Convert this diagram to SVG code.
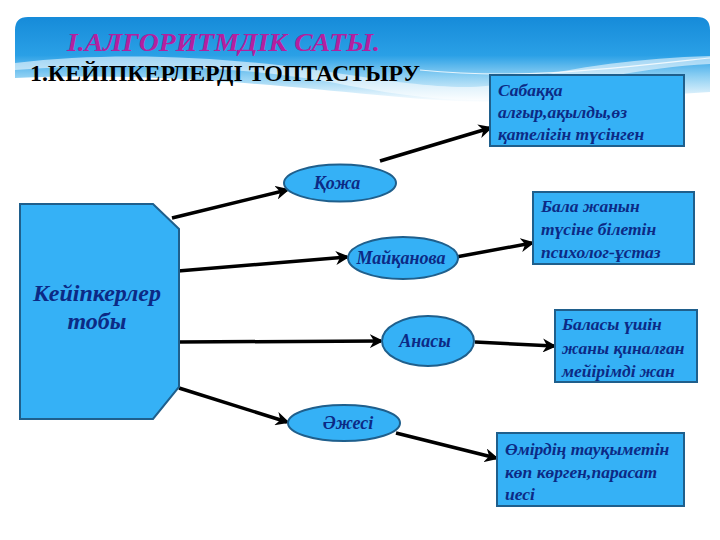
<svg xmlns="http://www.w3.org/2000/svg" width="720" height="540" viewBox="0 0 720 540">
<defs>
<linearGradient id="hdr" x1="0" y1="0" x2="0" y2="1">
<stop offset="0" stop-color="#168bd9"/>
<stop offset="0.45" stop-color="#2aa0e6"/>
<stop offset="0.7" stop-color="#8fd0f3"/>
<stop offset="1" stop-color="#ffffff"/>
</linearGradient>
<marker id="arr" viewBox="0 0 10 10" refX="8" refY="5" markerWidth="4" markerHeight="4" orient="auto" markerUnits="strokeWidth">
<path d="M0,0 L10,5 L0,10 L3,5 z" fill="#000"/>
</marker>
<style>
.node{fill:#35b1f6;stroke:#1f5f8c;stroke-width:2}
.lbl{font-family:"Liberation Serif","DejaVu Serif",serif;font-style:italic;font-weight:bold;fill:#0c2a85}
.bt{font-size:17.5px}
.el{font-size:18px;text-anchor:middle}
.con{stroke:#000;stroke-width:3.5;fill:none;marker-end:url(#arr)}
</style>
</defs>
<rect width="720" height="540" fill="#ffffff"/>
<g id="header">
<path d="M15,30 Q15,17 28,17 H697 Q710,17 710,30 V92 C640,96 560,104 480,102 C360,99 220,70 15,78 Z" fill="url(#hdr)"/>
<path d="M15,63 C120,50 240,58 330,72 C420,86 470,92 510,82 C580,66 640,58 710,56 V64 C640,68 590,80 520,96 C470,106 400,96 330,82 C240,66 120,62 15,70 Z" fill="#ffffff" opacity="0.55"/>
<path d="M420,70 C520,80 600,70 710,58" stroke="#ffffff" stroke-width="1.2" fill="none" opacity="0.8"/>
<text x="67" y="51" font-family="Liberation Serif, DejaVu Serif, serif" font-style="italic" font-weight="bold" font-size="25" fill="#b3209f" textLength="313" lengthAdjust="spacingAndGlyphs">І.АЛГОРИТМДІК САТЫ.</text>
<text x="30" y="81" font-family="Liberation Serif, DejaVu Serif, serif" font-weight="bold" font-size="23" fill="#000" textLength="390" lengthAdjust="spacingAndGlyphs">1.КЕЙІПКЕРЛЕРДІ ТОПТАСТЫРУ</text>
</g>
<g id="connectors">
<line class="con" x1="172" y1="218" x2="287" y2="190"/>
<line class="con" x1="380" y1="161" x2="490" y2="128"/>
<line class="con" x1="178" y1="271" x2="347" y2="257"/>
<line class="con" x1="456" y1="257" x2="532" y2="243"/>
<line class="con" x1="179" y1="342" x2="381" y2="341"/>
<line class="con" x1="475" y1="342" x2="554" y2="346"/>
<line class="con" x1="179" y1="388" x2="287" y2="422"/>
<line class="con" x1="396" y1="433" x2="496" y2="458"/>
</g>
<g id="group">
<path class="node" d="M20,204 H153 L179,229 V387 L153,419 H20 Z"/>
<text class="lbl" x="97" y="301" font-size="24" text-anchor="middle">Кейіпкерлер</text>
<text class="lbl" x="97" y="329" font-size="24" text-anchor="middle">тобы</text>
</g>
<g id="koja">
<ellipse class="node" cx="340" cy="183" rx="56" ry="18.5"/>
<text class="lbl el" x="337" y="189">Қожа</text>
</g>
<g id="maikanova">
<ellipse class="node" cx="403" cy="258" rx="55" ry="21"/>
<text class="lbl el" x="401" y="264">Майқанова</text>
</g>
<g id="anasy">
<ellipse class="node" cx="428" cy="341" rx="46" ry="25"/>
<text class="lbl el" x="425" y="347">Анасы</text>
</g>
<g id="ajesi">
<ellipse class="node" cx="344" cy="423" rx="56" ry="18"/>
<text class="lbl el" x="348" y="429">Әжесі</text>
</g>
<g id="box1">
<rect class="node" x="490" y="75" width="194" height="71"/>
<text class="lbl bt" x="498" y="96">Сабаққа</text>
<text class="lbl bt" x="498" y="118">алғыр,ақылды,өз</text>
<text class="lbl bt" x="498" y="140">қателігін түсінген</text>
</g>
<g id="box2">
<rect class="node" x="533" y="192" width="161" height="72"/>
<text class="lbl bt" x="541" y="212">Бала жанын</text>
<text class="lbl bt" x="541" y="235">түсіне білетін</text>
<text class="lbl bt" x="541" y="258">психолог-ұстаз</text>
</g>
<g id="box3">
<rect class="node" x="555" y="310" width="142" height="72"/>
<text class="lbl bt" x="562" y="330">Баласы үшін</text>
<text class="lbl bt" x="562" y="354">жаны қиналған</text>
<text class="lbl bt" x="562" y="377">мейірімді жан</text>
</g>
<g id="box4">
<rect class="node" x="497" y="433" width="187" height="73"/>
<text class="lbl bt" x="505" y="455">Өмірдің тауқыметін</text>
<text class="lbl bt" x="505" y="478">көп көрген,парасат</text>
<text class="lbl bt" x="505" y="500">иесі</text>
</g>
</svg>
